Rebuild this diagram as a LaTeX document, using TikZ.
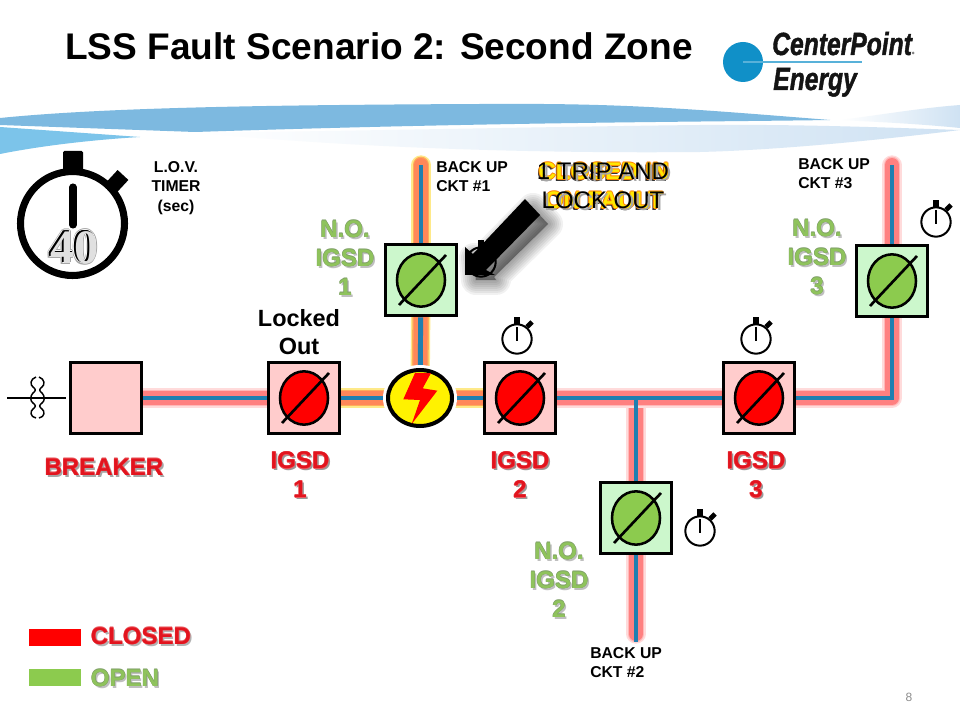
\documentclass[tikz,border=0pt]{standalone}
\usepackage{fontspec}
\setmainfont{Liberation Sans}
\newfontfamily\serifbf{Liberation Serif}
\newfontfamily\logofont[ItalicFeatures={FakeBold=1.5},BoldItalicFeatures={FakeBold=1.5}]{Liberation Sans}
\usetikzlibrary{shapes.geometric,calc}
\pgfdeclarelayer{bg}
\pgfsetlayers{bg,main}
\definecolor{feedblue}{HTML}{1F7FB0}
\definecolor{closedred}{HTML}{FF0000}
\definecolor{openlime}{HTML}{8CCB4E}
\definecolor{boxpink}{HTML}{FFCCCC}
\definecolor{boxgreen}{HTML}{CCF7CC}
\definecolor{redtxt}{HTML}{E2141E}
\definecolor{greentxt}{HTML}{8FC35C}
\definecolor{greenedge}{HTML}{7F9F68}
\definecolor{bandblue}{HTML}{7DB9E0}
\definecolor{skyblue}{HTML}{7CC4EA}
\definecolor{palebl}{HTML}{CFE2F3}
\definecolor{logoblue}{HTML}{1090C8}
\tikzset{
  x=0.75pt,y=-0.75pt,
  lbl/.style={inner sep=0,align=center,font=\bfseries\fontsize{18}{21.75}\selectfont},
  small/.style={inner sep=0,align=left,font=\bfseries\fontsize{11.8}{14.4}\selectfont},
  swbox/.style={draw=black,line width=2.7pt,minimum size=53.5pt,inner sep=0},
  disc/.style={ellipse,draw=black,line width=1.9pt,minimum width=36pt,minimum height=40pt,inner sep=0},
  slash/.style={draw=black,line width=2pt},
  wface/.style={circle,draw=black,line width=1.5pt,fill=white,minimum size=22pt,inner sep=0},
  gA/.style={line width=14.5pt,line cap=round,line join=round},
  gB/.style={line width=12.5pt,line cap=round,line join=round},
  gC/.style={line width=10.5pt,line cap=round,line join=round},
  core/.style={draw=feedblue,line width=3.7pt,line join=miter},
  forty/.style={inner sep=0,font=\serifbf\bfseries\fontsize{36}{36}\selectfont},
  logotxt/.style={inner sep=0,anchor=base west,font=\logofont\bfseries\itshape\fontsize{24}{24}\selectfont,text=black!92},
}
% fancy label: shadow, edge, fill
\newcommand\fancy[6]{%
  \node[lbl,text=#5] at ([shift={(1.8,1.8)}]#2) {#6};
  \foreach \dx/\dy in {-.4/0,.4/0,0/-.4,0/.4}{\node[lbl,text=#4] at ([shift={(\dx,\dy)}]#2) {#6};}
  \node[lbl,text=#3] (#1) at (#2) {#6};}
\newcommand\switchbox[4]{%
  \node[swbox,fill=#3] (#1) at (#2) {};
  \node[disc,fill=#4] (#1d) at (#1.center) {};
  \draw[slash] ([shift={(-22,25)}]#1.center) -- ([shift={(25,-25)}]#1.center);}
\newcommand\watch[2]{%
  \node[wface] (#1) at (#2) {};
  \fill ([shift={(-3,-22)}]#1.center) rectangle ([shift={(3,-14)}]#1.center);
  \draw[line width=3.6pt] ([shift={(10,-12)}]#1.center) -- ([shift={(15,-17)}]#1.center);
  \draw[line width=1.4pt] ([shift={(0,-12)}]#1.center) -- ([shift={(0,2)}]#1.center);}
\newcommand\feeder[2]{%
  \ifnum#1=0
    \draw[gA,draw=red!14] #2; \draw[gB,draw=red!28] #2; \draw[gC,draw=red!50] #2;
  \else
    \draw[gA,draw=yellow!70!orange!45] #2; \draw[gB,draw=orange!65] #2; \draw[gC,draw=red!45!orange!65] #2;
  \fi
  \draw[core] #2;}
\begin{document}
\begin{tikzpicture}
\useasboundingbox (0,0) rectangle (960,720);

% switches and equipment
\node[swbox,fill=boxpink] (brk) at (106,398) {};
\switchbox{igsdone}{304,398}{boxpink}{closedred}
\switchbox{igsdtwo}{520,398}{boxpink}{closedred}
\switchbox{igsdthree}{759,398}{boxpink}{closedred}
\switchbox{noone}{421,280}{boxgreen}{openlime}
\switchbox{notwo}{636,518}{boxgreen}{openlime}
\switchbox{nothree}{892,281}{boxgreen}{openlime}

\node[ellipse,draw=black,line width=3pt,fill=yellow,minimum width=48pt,minimum height=42pt,inner sep=0] (fault) at (420,398) {};
\fill[red] (415,373) -- (431,373) -- (422.7,388.3) -- (437.3,390.7) -- (411.7,424) -- (420,400) -- (403.3,399.3) -- cycle;

\coordinate (junc) at (636,398);
\coordinate (corner) at (892,398);
\coordinate (topone) at (421,165);
\coordinate (topthree) at (892,165);
\coordinate (botglow) at (636,634);
\coordinate (bot) at (636,642);
\coordinate (tfin) at (7,398);
\coordinate (tfout) at (66,398);

\begin{pgfonlayer}{bg}
  \fill[white] (0,0) rectangle (960,720);
  % banner
  \fill[bandblue] (0,118) .. controls (100,108) and (250,105) .. (480,104) .. controls (620,103) and (680,108) .. (830,120)
     .. controls (700,122) and (500,122) .. (195,132) -- (0,125) -- cycle;
  \fill[skyblue] (0,127) -- (140,137) .. controls (90,140) and (40,146) .. (0,154) -- cycle;
  \shade[left color=white,right color=palebl] (200,133) .. controls (400,130) and (600,126) .. (700,125) .. controls (800,124) and (900,128) .. (960,130)
     .. controls (880,140) and (780,150) .. (700,152) .. controls (600,153) and (400,152) .. (200,133) -- cycle;
  \shade[left color=white,right color=palebl] (840,120) .. controls (880,115) and (920,108) .. (960,105) -- (960,128) .. controls (920,124) and (880,122) .. (840,120) -- cycle;

  % connectors
  \feeder{0}{(brk) -- (igsdone)}
  \feeder{1}{(igsdone) -- (fault)}
  \feeder{1}{(fault) -- (igsdtwo)}
  \feeder{1}{(fault) -- (noone)}
  \feeder{1}{(noone) -- (topone)}
  \feeder{0}{(junc) -- (notwo)}
  \feeder{0}{(igsdtwo) -- (igsdthree)}
  \draw[core] (junc) -- (notwo);
  \feeder{0}{(notwo) -- (botglow)}
  \draw[core] (botglow) -- (bot);
  \feeder{0}{(igsdthree) -- (corner) -- (nothree)}
  \feeder{0}{(nothree) -- (topthree)}
  \fill[white] (420,398) ellipse [x radius=37,y radius=33];
\end{pgfonlayer}

% transformer
\draw[line width=1.2pt] (tfin) -- (tfout);
\draw[line width=1.1pt] (36,377) .. controls (30,379) and (30,385) .. (33,387) .. controls (36,389) and (36,391) .. (33,393)
   .. controls (30,396) and (30,401) .. (33,403) .. controls (36,405) and (36,407) .. (33,409) .. controls (30,411) and (30,417) .. (36,418);
\draw[line width=1.1pt] (39,377) .. controls (45,379) and (45,385) .. (42,387) .. controls (39,389) and (39,391) .. (42,393)
   .. controls (45,396) and (45,401) .. (42,403) .. controls (39,405) and (39,407) .. (42,409) .. controls (45,411) and (45,417) .. (39,418);

% small stopwatches
\watch{wtwo}{517,339}
\watch{wthree}{756,339}
\watch{wfour}{936,222}
\watch{wfive}{700,531}
\watch{wone}{481,262}

% big stopwatch
\node[circle,draw=black,line width=5.3pt,minimum size=78pt,inner sep=0] (bigwatch) at (72.5,223.5) {};
\fill[rounded corners=1pt] (63,151) rectangle (83,172);
\draw[line width=11pt] (110,189) -- (123,175);
\draw[line width=5.3pt,line cap=round] (73,187) -- (73,225);
\foreach \dx/\dy in {-2/0,2/0,0/-2,0/2,-1.5/-1.5,1.5/-1.5,-1.5/1.5,1.5/1.5}{
  \node[forty,text=black!35] at ([shift={(\dx,\dy)}]73,247) {40};}
\foreach \dx/\dy in {-1.2/0,1.2/0,0/-1.2,0/1.2}{
  \node[forty,text=white] at ([shift={(\dx,\dy)}]73,247) {40};}
\foreach \dx in {-.6,.6}{\node[forty,text=black] at ([shift={(\dx,0)}]73,247) {40};}
\node[forty,text=black] (forty) at (73,247) {40};
\node[forty,text=black!12] at (74,247.3) {40};

% fault arrow shadow and body
\foreach \w in {30,26,22,18,14,10,6,2}{
  \draw[black,opacity=.055,fill=black,line width=\w*0.75pt,line join=round]
   (533,208) -- (548,224) -- (494,277) -- (496,280) -- (476,280) -- (474,258) -- (480,262) -- cycle;}
\fill[black] (525,199) -- (540,215) -- (486,270) -- (495,275) -- (465,275) -- (465,247) -- (473,254) -- cycle;

% title
\node[inner sep=0,anchor=base west,font=\bfseries\fontsize{27.8}{30}\selectfont] (title) at (65,60) {LSS Fault Scenario 2: Second Zone};

% logo
\fill[logoblue] (743,62) circle [radius=20] coordinate (logodisc);
\coordinate (logoend) at (862,62);
\draw[draw=logoblue!70,line width=1pt] (logodisc) -- (logoend);
\node[logotxt] (logoa) at (772,55) {\scalebox{.77}[1]{CenterPoint}};
\node[logotxt] (logob) at (773,90) {\scalebox{.77}[1]{Energy}};
\fill[black!50] (913,53) circle [radius=1.5];

% labels
\node[small,align=center] (lov) at (176,188) {L.O.V.\\TIMER\\(sec)};
\node[small,anchor=north west] (bu1) at (436,161) {BACK UP\\CKT \#1};
\node[small,anchor=north west] (bu2) at (590,647) {BACK UP\\CKT \#2};
\node[small,anchor=north west] (bu3) at (798,158) {BACK UP\\CKT \#3};
\node[lbl,font=\bfseries\fontsize{17.6}{21}\selectfont] (locked) at (299,332) {Locked\\Out};

\fancy{lbreak}{104,467}{redtxt}{redtxt!70}{black!35}{BREAKER}
\fancy{lone}{300,475}{redtxt}{redtxt!70}{black!40}{IGSD\\1}
\fancy{ltwo}{520,475}{redtxt}{redtxt!70}{black!40}{IGSD\\2}
\fancy{lthree}{756,475}{redtxt}{redtxt!70}{black!40}{IGSD\\3}
\fancy{lnoone}{345,258}{greentxt}{greenedge}{black!25}{N.O.\\IGSD\\1}
\fancy{lnotwo}{559,580}{greentxt}{greenedge}{black!25}{N.O.\\IGSD\\2}
\fancy{lnothree}{817,257}{greentxt}{greenedge}{black!25}{N.O.\\IGSD\\3}

% overlapped callouts
\node[lbl,text=black!80] at (602.5,187.5) {CLOSED IN\\ON FAULT};
\foreach \dx/\dy in {-1/0,1/0,0/-1,0/1}{\node[lbl,text=orange] at ([shift={(\dx,\dy)}]604,186) {CLOSED IN\\ON FAULT};}
\node[lbl,text=yellow!90!orange] (lclosein) at (604,186) {CLOSED IN\\ON FAULT};
\node[lbl,text=black!35,font=\fontsize{18}{21.75}\selectfont] at (605.5,187.5) {1 TRIP AND\\LOCK OUT};
\node[lbl,text=black,font=\fontsize{18}{21.75}\selectfont] (ltrip) at (603,186) {1 TRIP AND\\LOCK OUT};

% legend
\fill[closedred] (29,629) rectangle (81,646);
\fill[openlime] (29,669) rectangle (81,686);
\fancy{lclosed}{141,636}{redtxt}{redtxt!70}{black!30}{CLOSED}
\fancy{lopen}{125,678}{greentxt}{greenedge}{black!25}{OPEN}

% page number
\node[inner sep=0,text=black!45,font=\fontsize{9}{9}\selectfont] (page) at (909,697) {8};
\end{tikzpicture}
\end{document}
